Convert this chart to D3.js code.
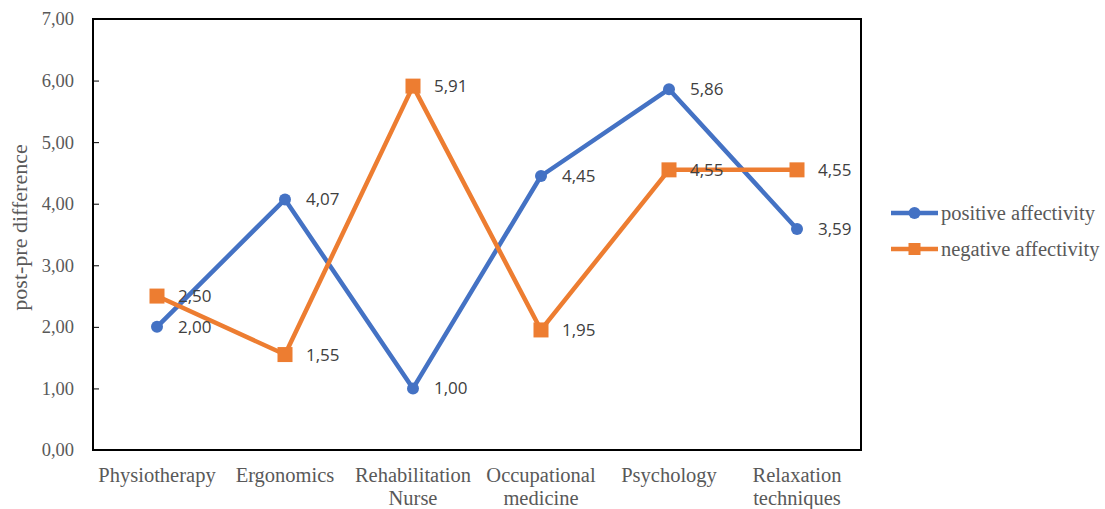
<!DOCTYPE html>
<html>
<head>
<meta charset="utf-8">
<script src="https://cdn.jsdelivr.net/npm/d3@7"></script>
<style>
  html, body { margin: 0; padding: 0; background: #fff; }
  svg { display: block; }
</style>
</head>
<body>
<svg id="chart" width="1105" height="509"></svg>
<script>
// Categories and values per series
const categories = [
  ["Physiotherapy"],
  ["Ergonomics"],
  ["Rehabilitation", "Nurse"],
  ["Occupational", "medicine"],
  ["Psychology"],
  ["Relaxation", "techniques"]
];
const positiveAffectivity = [2.00, 4.07, 1.00, 4.45, 5.86, 3.59];
const negativeAffectivity = [2.50, 1.55, 5.91, 1.95, 4.55, 4.55];
const yTicks = [0, 1, 2, 3, 4, 5, 6, 7];
const seriesNames = ["positive affectivity", "negative affectivity"];
const seriesColors = ["#4472C4", "#ED7D31"];

const svg = d3.select("#chart");
const margin = { left: 93, top: 19, right: 244, bottom: 59 };
const W = 1105, H = 509;
const plotW = W - margin.left - margin.right;
const plotH = H - margin.top - margin.bottom;
const serif = "'Liberation Serif', 'Times New Roman', serif";

const fmt = v => v.toFixed(2).replace(".", ",");

const x = d3.scaleBand()
  .domain(d3.range(categories.length))
  .range([margin.left, margin.left + plotW])
  .paddingInner(0).paddingOuter(0);
const y = d3.scaleLinear().domain([0, 7]).range([margin.top + plotH, margin.top]);
const cx = i => x(i) + x.bandwidth() / 2;

// Plot frame
svg.append("rect")
  .attr("x", margin.left).attr("y", margin.top)
  .attr("width", plotW).attr("height", plotH)
  .attr("fill", "none").attr("stroke", "#000").attr("stroke-width", 2);

// Y axis with inward ticks
const yAxis = d3.axisLeft(y).tickValues(yTicks).tickSize(-6).tickPadding(19).tickFormat(fmt);
const gy = svg.append("g").attr("transform", `translate(${margin.left},0)`).call(yAxis);
gy.select(".domain").remove();
gy.selectAll(".tick line").attr("stroke", "#000").attr("stroke-width", 1);
gy.selectAll(".tick text")
  .attr("font-family", serif)
  .attr("font-size", 18.5).attr("fill", "#595959");

// X axis category labels
const gx = svg.append("g");
categories.forEach((lines, i) => {
  const t = gx.append("text")
    .attr("x", cx(i)).attr("y", 482)
    .attr("text-anchor", "middle")
    .attr("font-family", serif)
    .attr("font-size", 20.5).attr("fill", "#595959");
  lines.forEach((ln, k) => {
    t.append("tspan").attr("x", cx(i)).attr("dy", k === 0 ? 0 : 23).text(ln);
  });
});

// Y axis title
svg.append("text")
  .attr("transform", `translate(27,${margin.top + plotH / 2 - 7}) rotate(-90)`)
  .attr("text-anchor", "middle")
  .attr("font-family", serif)
  .attr("font-size", 22).attr("fill", "#595959")
  .text("post-pre difference");

const line = d3.line().x((d, i) => cx(i)).y(d => y(d));

// Series lines
const allSeries = [positiveAffectivity, negativeAffectivity];
allSeries.forEach((vals, s) => {
  svg.append("path").datum(vals)
    .attr("d", line).attr("fill", "none")
    .attr("stroke", seriesColors[s]).attr("stroke-width", 4.5)
    .attr("stroke-linejoin", "round");
});

// Markers
svg.append("g").selectAll("circle").data(positiveAffectivity).join("circle")
  .attr("cx", (d, i) => cx(i)).attr("cy", d => y(d)).attr("r", 6)
  .attr("fill", seriesColors[0]);
const sq = 15;
svg.append("g").selectAll("rect").data(negativeAffectivity).join("rect")
  .attr("x", (d, i) => cx(i) - sq / 2).attr("y", d => y(d) - sq / 2)
  .attr("width", sq).attr("height", sq)
  .attr("fill", seriesColors[1]);

// Data labels
allSeries.forEach(vals => {
  svg.append("g").selectAll("text").data(vals).join("text")
    .attr("x", (d, i) => cx(i) + 21).attr("y", d => y(d))
    .attr("dy", "0.35em")
    .attr("font-family", "'Open Sans', 'Liberation Sans', sans-serif")
    .attr("font-size", 17).attr("fill", "#404040")
    .text(d => fmt(d));
});

// Legend
const legend = svg.append("g");
seriesNames.forEach((name, s) => {
  const ly = 213 + s * 36;
  legend.append("line")
    .attr("x1", 891).attr("x2", 938).attr("y1", ly).attr("y2", ly)
    .attr("stroke", seriesColors[s]).attr("stroke-width", 4.5);
  if (s === 0) {
    legend.append("circle").attr("cx", 914.5).attr("cy", ly).attr("r", 6).attr("fill", seriesColors[s]);
  } else {
    legend.append("rect").attr("x", 914.5 - 6).attr("y", ly - 6).attr("width", 12).attr("height", 12).attr("fill", seriesColors[s]);
  }
  legend.append("text")
    .attr("x", 941).attr("y", ly).attr("dy", "0.35em")
    .attr("font-family", serif)
    .attr("font-size", 20.5).attr("fill", "#595959")
    .text(name);
});
</script>
</body>
</html>
